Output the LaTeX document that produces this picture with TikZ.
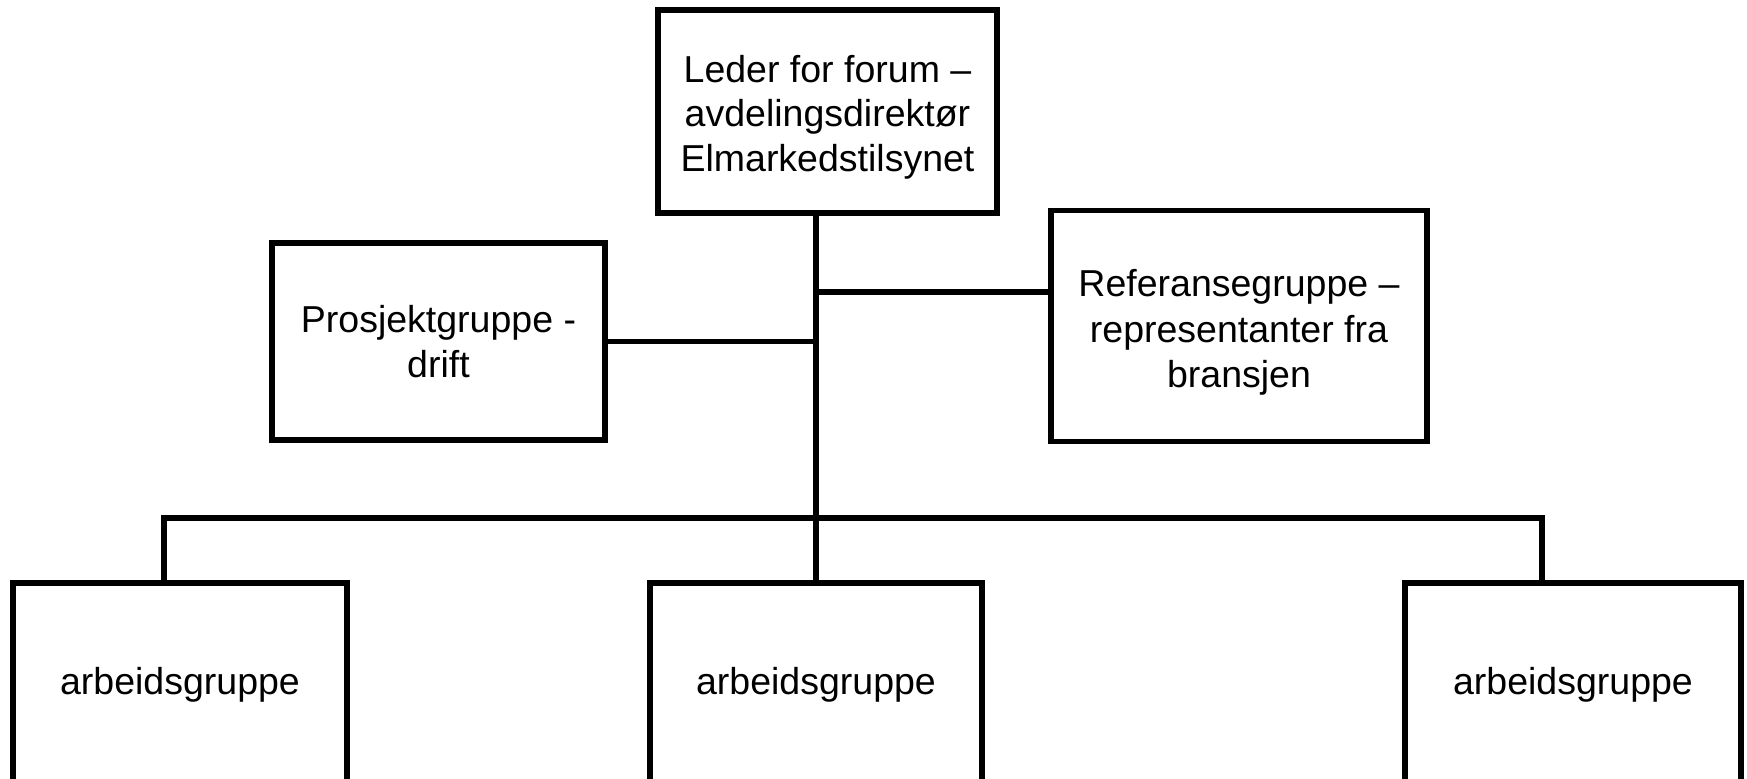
\documentclass[tikz,border=0pt]{standalone}
\usepackage{fontspec}
\setmainfont{Liberation Sans}
\usepackage{tikz}

\begin{document}
\begin{tikzpicture}[x=0.5pt,y=-0.5pt,
    box/.style={draw,line width=2.7pt,align=center,inner sep=0pt,
        font=\fontsize{18.75}{22.3}\selectfont},
    link/.style={line width=2.7pt}]
    \useasboundingbox (0,0) rectangle (1747,779);
    \clip (0,0) rectangle (1747,779);
    \node[box,minimum width=169.5pt,minimum height=101.5pt](leder) at (827.5,111.5) {\rule{0pt}{19pt}Leder for forum --\\avdelingsdirektør\\Elmarkedstilsynet};
    \node[box,minimum width=166.5pt,minimum height=98.5pt](pros) at (438.5,341.5) {Prosjektgruppe -\\drift};
    \node[box,minimum width=188pt,minimum height=115.5pt](ref) at (1239,326) {\rule{0pt}{20pt}Referansegruppe --\\[0.4pt]representanter fra\\[0.4pt]bransjen};
    \node[box,minimum width=167pt,minimum height=101.5pt](arbv) at (180,684.5) {arbeidsgruppe};
    \node[box,minimum width=166pt,minimum height=101.5pt](arbm) at (816,684.5) {arbeidsgruppe};
    \node[box,minimum width=168pt,minimum height=101.5pt](arbh) at (1573,684.5) {arbeidsgruppe};
    \coordinate(refjoin) at (816,292);
    \coordinate(busv) at (164,518);
    \coordinate(bush) at (1542,518);
    \draw[link] (leder.south -| arbm.north) -- (arbm.north);
    \draw[link] (pros.east) -- (pros.east -| arbm.north);
    \draw[link] (refjoin) -- (refjoin -| ref.west);
    \draw[link] (busv |- arbv.north) -- (busv) -- (bush) -- (bush |- arbh.north);
\end{tikzpicture}
\end{document}
